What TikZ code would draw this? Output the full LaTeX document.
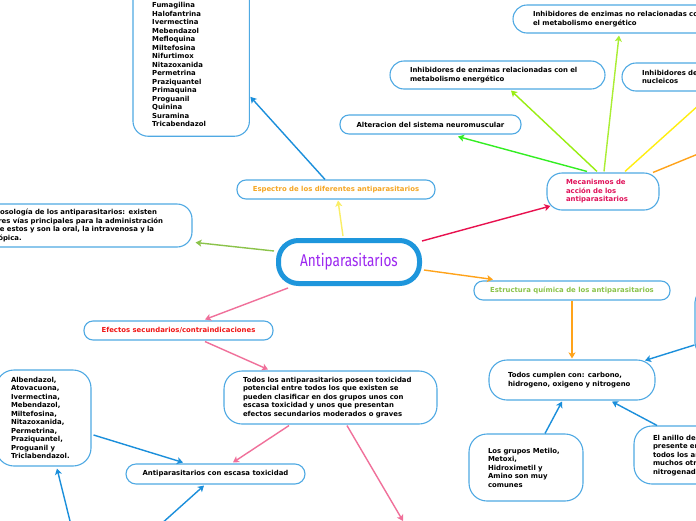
\documentclass[tikz,border=0pt]{standalone}
\usepackage{fontspec}
\usepackage{graphicx}
\setmainfont{DejaVu Sans}
\newfontfamily\titlefont{Fira Sans}
\usetikzlibrary{arrows.meta,calc}
\definecolor{ctrblue}{HTML}{1E96DC}
\definecolor{bxline}{HTML}{4FA9E3}
\definecolor{arblue}{HTML}{1B8FDB}
\definecolor{pinkc}{HTML}{F0709A}
\definecolor{crimsonc}{HTML}{E8114F}
\definecolor{yellowc}{HTML}{FAEE66}
\definecolor{greenpos}{HTML}{8BC34A}
\definecolor{orangec}{HTML}{FFA31A}
\definecolor{greenalt}{HTML}{33EE22}
\definecolor{ygreen}{HTML}{99EE11}
\definecolor{ygreentwo}{HTML}{AAEE33}
\definecolor{yellowtwo}{HTML}{FFEE11}
\definecolor{titlepurple}{HTML}{9C27F0}
\definecolor{espectrotext}{HTML}{F5A623}
\definecolor{mecatext}{HTML}{E0125A}
\definecolor{estrtext}{HTML}{8BC34A}
\definecolor{efectext}{HTML}{F01414}
\begin{document}
\begin{tikzpicture}[x=1pt,y=-1pt,
  bx/.style={draw=bxline, line width=1.1pt, rounded corners=#1, inner sep=0pt, align=left,
    font=\fontsize{6.9}{8.5}\selectfont\bfseries},
  bx/.default=9pt,
  conn/.style={line width=1.4pt, -{Stealth[length=6pt,width=7pt,inset=1.5pt]}},
  txt/.style={inner sep=0pt, align=left, font=\fontsize{6.9}{8.5}\selectfont\bfseries}]
\useasboundingbox (0,0) rectangle (696,520);
\clip (0,0) rectangle (696,520);
\fill[white] (0,0) rectangle (696,520);

% central
\node[draw=ctrblue, line width=5pt, rounded corners=20pt, minimum width=141pt, minimum height=43pt,
  inner sep=0pt, text=titlepurple, font=\titlefont\fontsize{17}{17}\selectfont] (central) at (349,262)
  {\scalebox{0.8}[1]{Antiparasitarios}};

% spectrum list
\node[txt, text width=78pt, anchor=north west] (list) at (152,2.5)
  {Fumagilina\\Halofantrina\\Ivermectina\\Mebendazol\\Mefloquina\\Miltefosina\\Nifurtimox\\Nitazoxanida\\Permetrina\\Praziquantel\\Primaquina\\Proguanil\\Quinina\\Suramina\\Tricabendazol};
\draw[draw=bxline, line width=1.1pt, rounded corners=15pt] ($(list.south west)+(-19,9)$) rectangle ($(list.north east)+(19,-60)$);

\node[bx, minimum width=198pt, minimum height=19pt, align=center, text=espectrotext] (espectro) at (336,189.5)
  {Espectro de los diferentes antiparasitarios};

\node[bx=15pt, minimum width=211pt, minimum height=43pt, text width=183pt] (posologia) at (86.5,225.5)
  {Posología de los antiparasitarios: existen\\tres vías principales para la administración\\de estos y son la oral, la intravenosa y la\\tópica.};

\node[bx=15pt, minimum width=112pt, minimum height=37pt, text width=74pt, text=mecatext] (mecanismos) at (603,191.5)
  {Mecanismos de\\acción de los\\antiparasitarios};

\node[bx, minimum width=181pt, minimum height=19pt, align=center] (alteracion) at (430.5,124.5)
  {Alteracion del sistema neuromuscular};

\node[bx=14pt, minimum width=215pt, minimum height=28pt, text width=175pt] (inhrel) at (497.5,75)
  {Inhibidores de enzimas relacionadas con el\\metabolismo energético};

\node[bx=14pt, minimum width=247pt, minimum height=28pt, text width=207pt] (inhno) at (636.5,19)
  {Inhibidores de enzimas no relacionadas con\\el metabolismo energético};

\node[bx=14pt, minimum width=158pt, minimum height=28pt, text width=118pt] (inhnuc) at (701,77)
  {Inhibidores de ácidos\\nucleicos};

\node[bx, minimum width=196pt, minimum height=19pt, align=center, text=estrtext] (estructura) at (572,290.5)
  {Estructura química de los antiparasitarios};

\node[bx=18pt, minimum width=166pt, minimum height=40pt, text width=128pt] (cumplen) at (572,380)
  {Todos cumplen con: carbono,\\hidrogeno, oxigeno y nitrogeno};

\node[bx=12pt, minimum width=110pt, minimum height=65pt] (rightbox) at (750,322.5) {};

\node[bx=18pt, minimum width=114pt, minimum height=67pt, text width=76pt] (grupos) at (526,467.5)
  {Los grupos Metilo,\\Metoxi,\\Hidroximetil y\\Amino son muy\\comunes};

\node[bx=18pt, minimum width=180pt, minimum height=58pt, text width=142pt] (anillo) at (724,455)
  {El anillo de benceno está\\presente en casi\\todos los antiparasitarios y\\muchos otros compuestos\\nitrogenados};

\node[bx, minimum width=189pt, minimum height=19pt, align=center, text=efectext] (efectos) at (178.5,330.5)
  {Efectos secundarios/contraindicaciones};

\node[bx=18pt, minimum width=213pt, minimum height=53pt, text width=175pt] (todos) at (330.5,397.5)
  {Todos los antiparasitarios poseen toxicidad\\potencial entre todos los que existen se\\pueden clasificar en dos grupos unos con\\escasa toxicidad y unos que presentan\\efectos secundarios moderados o graves};

\node[bx=10pt, minimum width=179pt, minimum height=20pt, align=center] (escasa) at (215.5,474)
  {Antiparasitarios con escasa toxicidad};

\node[bx=18pt, minimum width=95pt, minimum height=96pt, text width=65pt] (albendazol) at (43.5,418)
  {Albendazol,\\Atovacuona,\\Ivermectina,\\Mebendazol,\\Miltefosina,\\Nitazoxanida,\\Permetrina,\\Praziquantel,\\Proguanil y\\Triclabendazol.};

% off-page ends
\coordinate (offyellow) at (720,86);
\coordinate (offorange) at (720,145);
\coordinate (offpink) at (403,521);
\coordinate (offbluea) at (160,525);
\coordinate (offblueb) at (71,525);

% connectors
\draw[conn, yellowc] ($(central.north)+(-6,-2)$) -- ($(espectro.south)+(2,1)$);
\draw[conn, arblue] ($(espectro.north)+(-11,0)$) -- ($(list.east)+(20,32)$);
\draw[conn, greenpos] ($(central.west)+(-2,-11)$) -- ($(posologia.east)+(3,17)$);
\draw[conn, crimsonc] ($(central.east)+(0,-21)$) -- ($(mecanismos.west)+(4,14.5)$);
\draw[conn, orangec] ($(central.east)+(2,8)$) -- ($(estructura.north)+(-79,-1)$);
\draw[conn, pinkc] ($(central.south)+(-61,2)$) -- ($(efectos.north)+(26.5,-1)$);
\draw[conn, pinkc] ($(efectos.south)+(26.5,1)$) -- ($(todos.north)+(-62.5,-1)$);
\draw[conn, pinkc] ($(todos.south)+(-41.5,1)$) -- ($(escasa.north)+(17.5,-1)$);
\draw[conn, pinkc] ($(todos.south)+(16.5,1)$) -- (offpink);
\draw[conn, arblue] ($(albendazol.east)+(2,17)$) -- ($(escasa.north)+(-32.5,-1)$);
\draw[conn, arblue] (offbluea) -- ($(escasa.south)+(-11.5,1)$);
\draw[conn, arblue] (offblueb) -- ($(albendazol.south)+(13.5,2)$);
\draw[conn, orangec] (estructura.south) -- ($(cumplen.north)+(0,-1)$);
\draw[conn, arblue] ($(rightbox.west)+(0,22.5)$) -- ($(cumplen.north)+(73,1)$);
\draw[conn, arblue] ($(grupos.north)+(19,0)$) -- ($(cumplen.south)+(-10,1)$);
\draw[conn, arblue] ($(anillo.north)+(-67,0)$) -- ($(cumplen.south)+(40,1)$);
\draw[conn, greenalt] ($(mecanismos.north)+(-16,-1)$) -- ($(alteracion.south)+(27.5,2)$);
\draw[conn, ygreen] ($(mecanismos.north)+(-6,-1)$) -- ($(inhrel.south)+(13.5,1)$);
\draw[conn, ygreentwo] ($(mecanismos.north)+(1,-1)$) -- ($(inhno.south)+(-17.5,2)$);
\draw[conn, yellowtwo] ($(mecanismos.north)+(22,-1)$) -- (offyellow);
\draw[conn, orangec] ($(mecanismos.north)+(50,0)$) -- (offorange);
\end{tikzpicture}
\end{document}
